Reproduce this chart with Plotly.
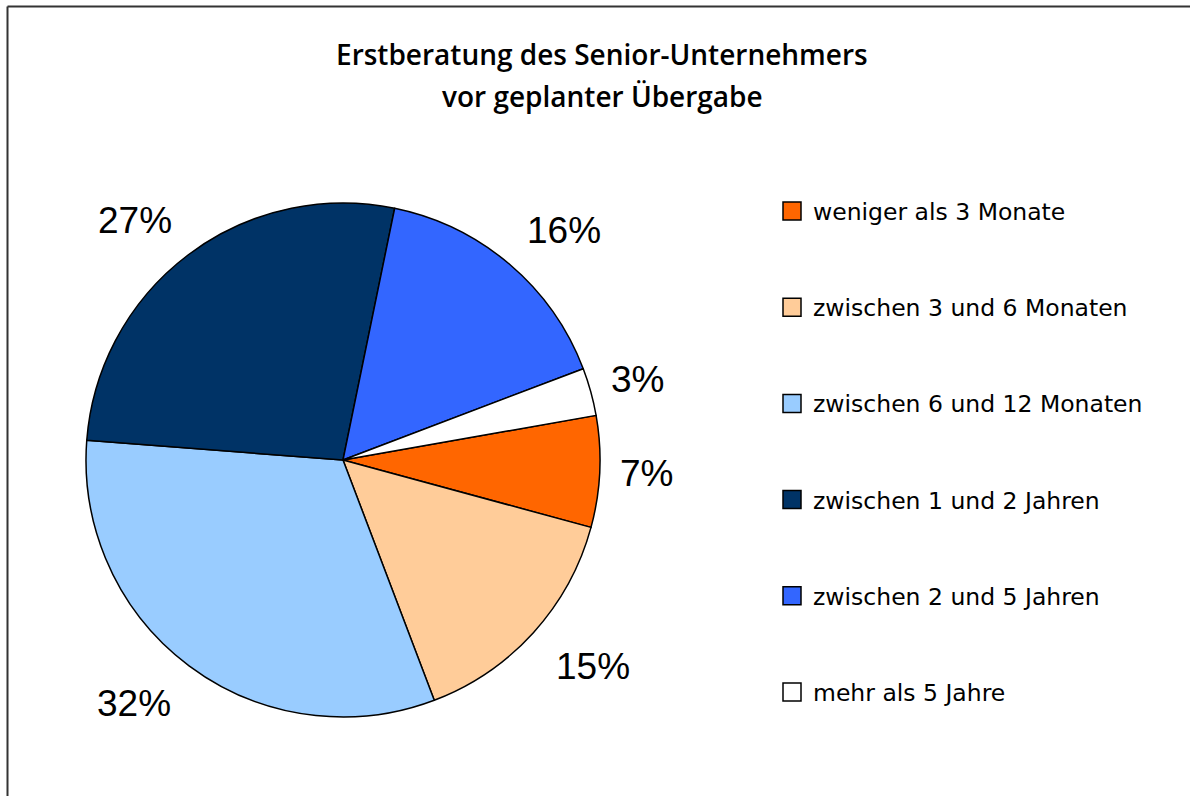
import math
import plotly.graph_objects as go

labels = ["weniger als 3 Monate", "zwischen 3 und 6 Monaten", "zwischen 6 und 12 Monaten",
          "zwischen 1 und 2 Jahren", "zwischen 2 und 5 Jahren", "mehr als 5 Jahre"]
values = [7, 15, 32, 27, 16, 3]
colors = ["#FF6600", "#FFCC99", "#99CCFF", "#003366", "#3366FF", "#FFFFFF"]
title_lines = ["Erstberatung des Senior-Unternehmers", "vor geplanter Übergabe"]

W, H = 1190, 796
cx, cy, R = 343, 460, 257
start_deg = 10  # math angle where first slice starts (clockwise)

fig = go.Figure()
fig.add_trace(go.Pie(
    labels=labels, values=values, sort=False, direction="clockwise",
    rotation=90 - start_deg,
    marker=dict(colors=colors, line=dict(color="black", width=1.5)),
    textinfo="none", hoverinfo="label+percent", showlegend=False,
    domain=dict(x=[(cx - R) / W, (cx + R) / W], y=[(H - cy - R) / H, (H - cy + R) / H]),
))

annotations = []
shapes = []
total = sum(values)
ang = start_deg
lab_size = 37
for v in values:
    span = 360 * v / total
    mid = math.radians(ang - span / 2)
    ang -= span
    txt = f"{round(100 * v / total)}%"
    w = 0.556 * lab_size * (len(txt) - 1) + 0.889 * lab_size
    h = 0.716 * lab_size
    c, s = math.cos(mid), math.sin(mid)
    d = R + 15 + 12 * abs(math.sin(2 * mid)) + (4 if s < 0 else 0)
    fx = max(-1.0, min(1.0, 3 * c))
    fy = max(-1.0, min(1.0, 2 * s))
    px = cx + d * c + fx * w / 2
    py = cy - d * s - fy * h / 2
    annotations.append(dict(x=px / W, y=1 - py / H, xref="paper", yref="paper",
                            text=txt, showarrow=False,
                            font=dict(family="Liberation Sans, Arial", size=lab_size, color="black"),
                            xanchor="center", yanchor="middle"))

# legend (manual)
lx, ly0, step, sq = 783, 211, 96.2, 18
for i, (lab, col) in enumerate(zip(labels, colors)):
    y = ly0 + i * step
    shapes.append(dict(type="rect", xref="paper", yref="paper",
                       x0=lx / W, x1=(lx + sq) / W, y0=1 - (y - sq / 2) / H, y1=1 - (y + sq / 2) / H,
                       fillcolor=col, line=dict(color="black", width=1.5)))
    annotations.append(dict(x=(lx + sq + 10) / W, y=1 - (y + 1) / H, xref="paper", yref="paper",
                            text=lab, showarrow=False, xanchor="left", yanchor="middle",
                            font=dict(family="DejaVu Sans", size=23.5, color="black")))

for i, t in enumerate(title_lines):
    annotations.append(dict(x=602 / W, y=1 - (54 + i * 42) / H, xref="paper", yref="paper",
                            text=t, showarrow=False, xanchor="center", yanchor="middle",
                            font=dict(family="Open Sans, DejaVu Sans", size=28, color="black", weight=600)))

# border (left and top edges visible)
shapes.append(dict(type="line", xref="paper", yref="paper", x0=7.5 / W, x1=7.5 / W, y0=1 - 6.5 / H, y1=-0.05,
                   line=dict(color="#333333", width=2)))
shapes.append(dict(type="line", xref="paper", yref="paper", x0=7.5 / W, x1=1.05, y0=1 - 6.5 / H, y1=1 - 6.5 / H,
                   line=dict(color="#333333", width=2)))

fig.update_layout(width=W, height=H, margin=dict(l=0, r=0, t=0, b=0),
                  paper_bgcolor="white", plot_bgcolor="white",
                  annotations=annotations, shapes=shapes)
fig.write_html("out.html", config={"displayModeBar": False},
               post_script="document.body.style.margin='0';document.body.style.overflow='hidden';")
